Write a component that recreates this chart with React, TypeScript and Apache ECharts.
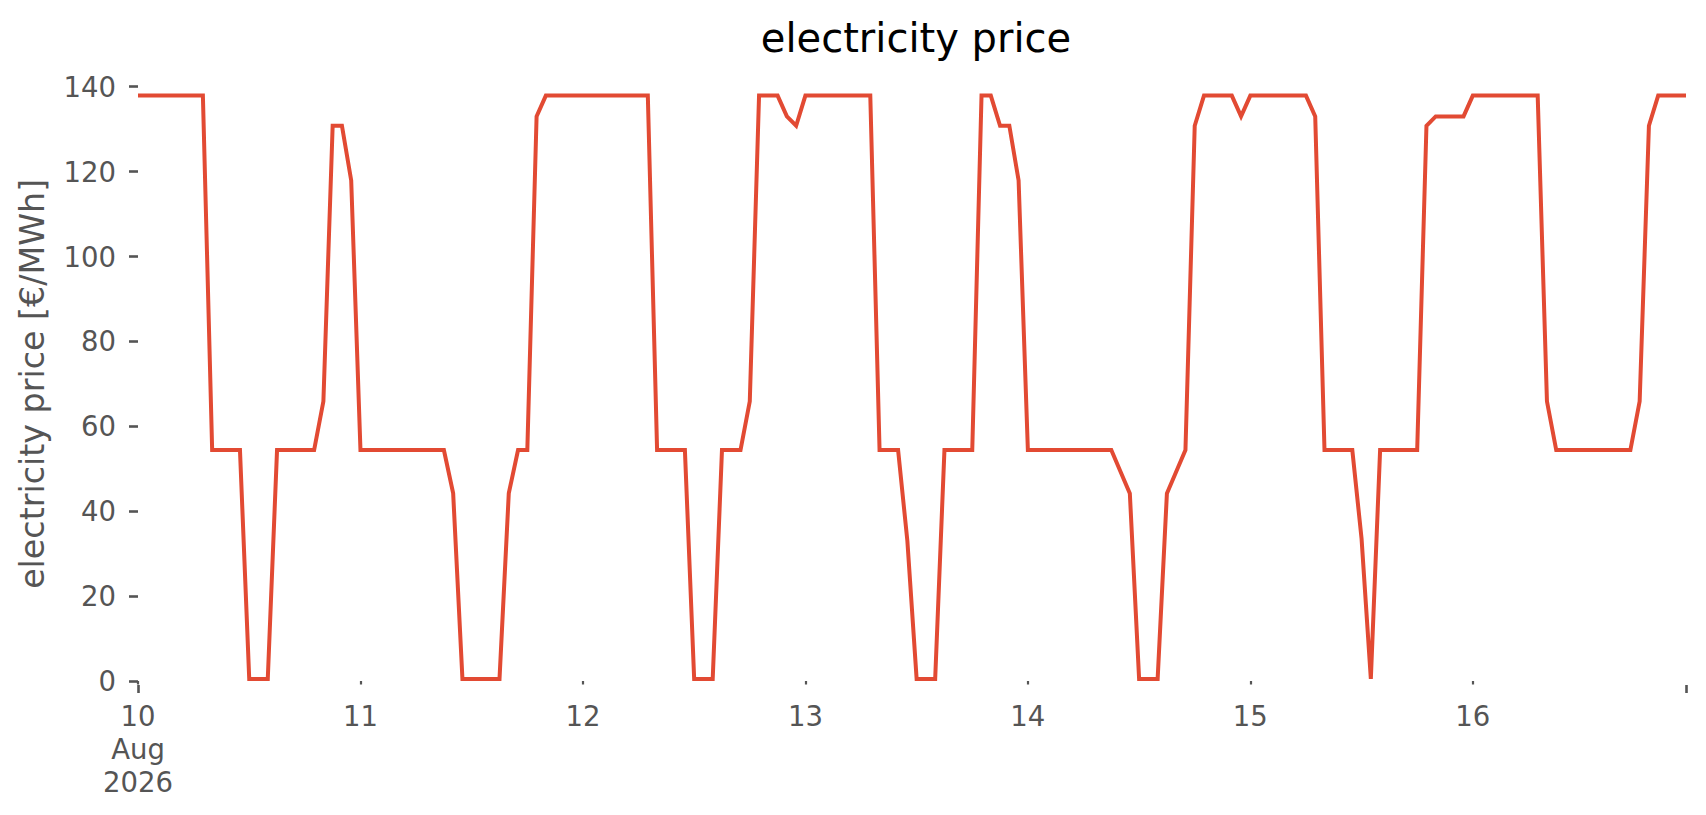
import React, { useEffect, useRef } from 'react';
import * as echarts from 'echarts';

// Hourly electricity price, 10 Aug 2026 00:00 .. 16 Aug 2026 23:00 (168 hours)
const dayLabels = ['10', '11', '12', '13', '14', '15', '16'];
const monthLabel = 'Aug';
const yearLabel = '2026';
const yTicks = [0, 20, 40, 60, 80, 100, 120, 140];

const aug10 = [
  137.9, 137.9, 137.9, 137.9, 137.9, 137.9, 137.9, 137.9,
  54.4, 54.4, 54.4, 54.4,
  0.5, 0.5, 0.5,
  54.4, 54.4, 54.4, 54.4, 54.4,
  65.9, 130.8, 130.8, 117.9,
];
const aug11 = [
  54.4, 54.4, 54.4, 54.4, 54.4, 54.4, 54.4, 54.4, 54.4, 54.4,
  44.2,
  0.5, 0.5, 0.5, 0.5, 0.5,
  44.2, 54.4, 54.4, 133.0,
  137.9, 137.9, 137.9, 137.9,
];
const aug12 = [
  137.9, 137.9, 137.9, 137.9, 137.9, 137.9, 137.9, 137.9,
  54.4, 54.4, 54.4, 54.4,
  0.5, 0.5, 0.5,
  54.4, 54.4, 54.4,
  65.9, 137.9, 137.9, 137.9, 133.0, 130.8,
];
const aug13 = [
  137.9, 137.9, 137.9, 137.9, 137.9, 137.9, 137.9, 137.9,
  54.4, 54.4, 54.4,
  33.0,
  0.5, 0.5, 0.5,
  54.4, 54.4, 54.4, 54.4,
  137.9, 137.9, 130.8, 130.8, 117.9,
];
const aug14 = [
  54.4, 54.4, 54.4, 54.4, 54.4, 54.4, 54.4, 54.4, 54.4, 54.4,
  49.3, 44.2,
  0.5, 0.5, 0.5,
  44.2, 49.3, 54.4, 130.8,
  137.9, 137.9, 137.9, 137.9, 133.0,
];
const aug15 = [
  137.9, 137.9, 137.9, 137.9, 137.9, 137.9, 137.9,
  133.0,
  54.4, 54.4, 54.4, 54.4,
  33.5, 0.5,
  54.4, 54.4, 54.4, 54.4, 54.4,
  130.8, 133.0, 133.0, 133.0, 133.0,
];
const aug16 = [
  137.9, 137.9, 137.9, 137.9, 137.9, 137.9, 137.9, 137.9,
  65.9,
  54.4, 54.4, 54.4, 54.4, 54.4, 54.4, 54.4, 54.4, 54.4,
  65.9, 130.8,
  137.9, 137.9, 137.9, 137.9,
];

const prices = [...aug10, ...aug11, ...aug12, ...aug13, ...aug14, ...aug15, ...aug16];

const FONT = "'DejaVu Sans', 'Noto Sans', sans-serif";
const GREY = '#555555';
const RED = '#E24A33';

export default function App() {
  const ref = useRef<HTMLDivElement>(null);

  useEffect(() => {
    document.body.style.margin = '0';
    if (!ref.current) return;
    const chart = echarts.init(ref.current, undefined, { renderer: 'svg' });
    const lastHour = prices.length - 1;

    chart.setOption({
      animation: false,
      backgroundColor: '#ffffff',
      title: {
        text: 'electricity price',
        left: 911,
        top: 13,
        textAlign: 'center',
        textStyle: { fontFamily: FONT, fontSize: 40, fontWeight: 'normal', color: '#000000' },
      },
      grid: { left: 138, right: 20, top: 86.7, bottom: 134, containLabel: false },
      xAxis: [
        {
          type: 'value',
          position: 'bottom',
          min: 0,
          max: lastHour,
          interval: 24,
          offset: 4,
          axisLine: { show: false },
          splitLine: { show: false },
          axisTick: { show: true, length: 3.5, lineStyle: { color: GREY, width: 2.2 } },
          axisLabel: {
            show: true,
            color: GREY,
            fontFamily: FONT,
            fontSize: 27.5,
            lineHeight: 33,
            margin: 14,
            showMaxLabel: false,
            formatter: (v: number) => {
              if (v % 24 !== 0) return '';
              const d = dayLabels[v / 24];
              if (v === 0) return [d, monthLabel, yearLabel].join('\n');
              return d;
            },
          },
        },
        {
          type: 'value',
          position: 'bottom',
          min: 0,
          max: lastHour,
          interval: lastHour,
          offset: 4,
          axisLine: { show: false },
          splitLine: { show: false },
          axisTick: { show: true, length: 8, lineStyle: { color: GREY, width: 2.6 } },
          axisLabel: { show: false },
        },
      ],
      yAxis: {
        type: 'value',
        min: yTicks[0],
        max: yTicks[yTicks.length - 1],
        interval: 20,
        offset: 3,
        name: 'electricity price [€/MWh]',
        nameLocation: 'middle',
        nameGap: 86,
        nameTextStyle: { fontFamily: FONT, fontSize: 33.3, color: GREY },
        axisLine: { show: false },
        splitLine: { show: false },
        axisTick: { show: true, length: 9, lineStyle: { color: GREY, width: 2.6 } },
        axisLabel: { color: GREY, fontFamily: FONT, fontSize: 27.5, margin: 19 },
      },
      series: [
        {
          type: 'line',
          xAxisIndex: 0,
          data: prices.map((v, i) => [i, v]),
          showSymbol: false,
          symbol: 'none',
          lineStyle: { color: RED, width: 4, join: 'miter' },
          itemStyle: { color: RED },
        },
      ],
    });

    return () => chart.dispose();
  }, []);

  return (
    <div
      ref={ref}
      style={{ position: 'fixed', left: 0, top: 0, width: 1706, height: 815, background: '#fff' }}
    />
  );
}
